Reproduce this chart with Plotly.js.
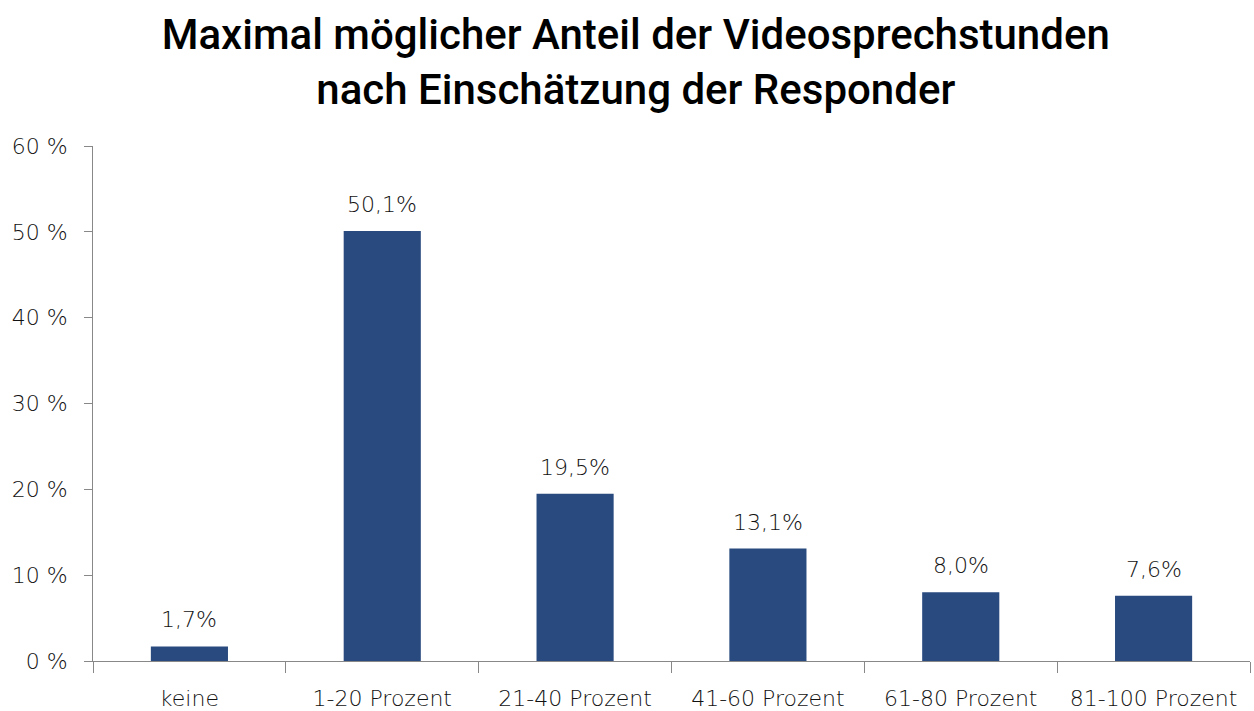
<!DOCTYPE html>
<html>
<head>
<meta charset="utf-8">
<script src="https://cdn.plot.ly/plotly-3.0.1.min.js"></script>
<style>
  html, body { margin: 0; padding: 0; background: #fff; }
  #chart { width: 1254px; height: 711px; }
</style>
</head>
<body>
<div id="chart"></div>
<script>
// Anteil der Responder je Kategorie (in %)
var categories = ['keine', '1-20 Prozent', '21-40 Prozent', '41-60 Prozent', '61-80 Prozent', '81-100 Prozent'];
var shares = [1.7, 50.1, 19.5, 13.1, 8.0, 7.6];
var yTicks = [0, 10, 20, 30, 40, 50, 60];
var yTickText = ['0 %', '10 %', '20 %', '30 %', '40 %', '50 %', '60 %'];

var labelFont = {family: 'DejaVu Sans', size: 22, color: '#111', weight: 200};

var data = [{
    x: categories,
    y: shares,
    type: 'bar',
    marker: {color: '#294a7f'},
    hoverinfo: 'none'
}];

// Wertebeschriftung ueber den Balken (Komma als Dezimaltrennzeichen)
var valueLabels = categories.map(function(c, i) {
    return {
        x: c,
        y: shares[i],
        text: shares[i].toFixed(1).replace('.', ',') + '%',
        showarrow: false,
        yanchor: 'bottom',
        yshift: 12,
        font: labelFont
    };
});

var layout = {
    width: 1254,
    height: 711,
    paper_bgcolor: '#fff',
    plot_bgcolor: '#fff',
    showlegend: false,
    bargap: 0.6,
    margin: {l: 93, r: 4, t: 146, b: 50},
    title: {
        text: 'Maximal möglicher Anteil der Videosprechstunden<br>nach Einschätzung der Responder',
        font: {family: 'Roboto', size: 42, color: '#000', weight: 500},
        x: 0.507,
        xanchor: 'center',
        yref: 'container',
        y: 0.931,
        yanchor: 'middle'
    },
    annotations: valueLabels,
    xaxis: {
        type: 'category',
        showline: true,
        linecolor: '#888',
        linewidth: 1,
        ticks: 'outside',
        tickson: 'boundaries',
        ticklen: 11,
        tickcolor: '#888',
        showgrid: false,
        tickfont: labelFont,
        ticklabelstandoff: 18
    },
    yaxis: {
        range: [0, 60],
        tickvals: yTicks,
        ticktext: yTickText,
        showline: true,
        linecolor: '#888',
        linewidth: 1,
        ticks: 'outside',
        ticklen: 8,
        tickcolor: '#888',
        showgrid: false,
        zeroline: false,
        tickfont: labelFont,
        ticklabelstandoff: 12
    }
};

Plotly.newPlot('chart', data, layout, {displayModeBar: false, staticPlot: true});
</script>
</body>
</html>
